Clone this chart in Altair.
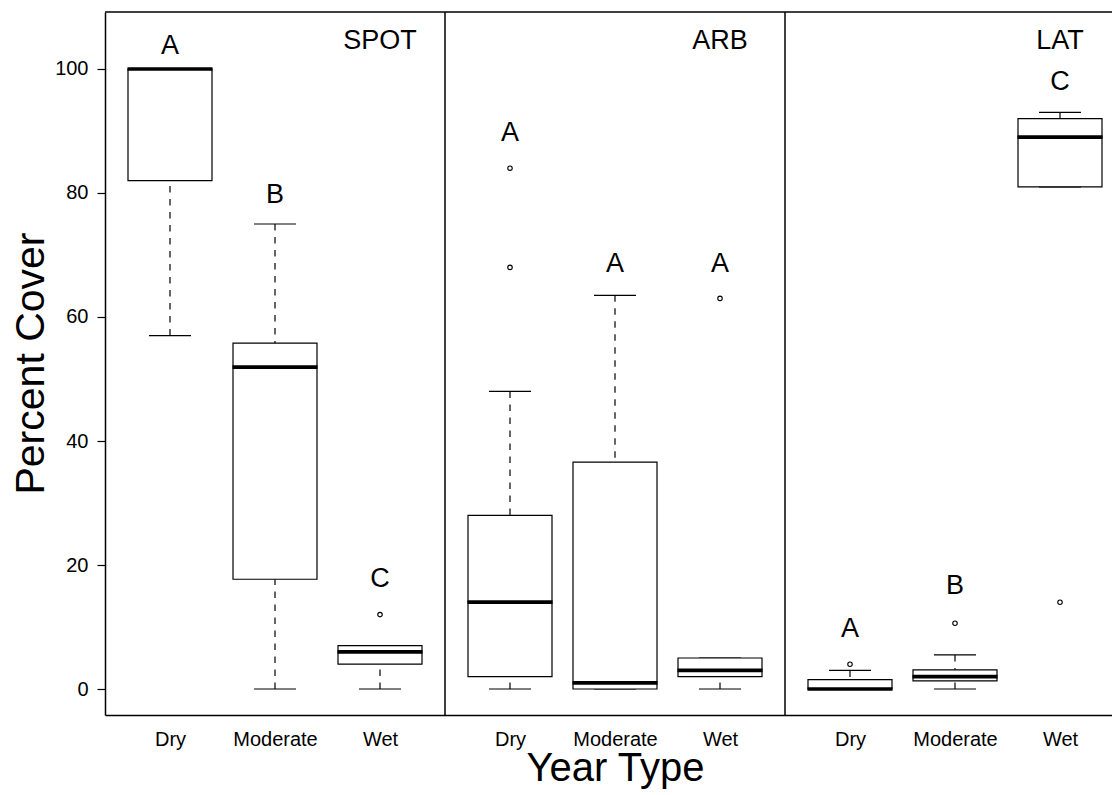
import altair as alt
import pandas as pd

# ---------------- data ----------------
panels = ["SPOT", "ARB", "LAT"]
year_types = ["Dry", "Moderate", "Wet"]

box_panel = ["SPOT", "SPOT", "SPOT", "ARB", "ARB", "ARB", "LAT", "LAT", "LAT"]
box_type = ["Dry", "Moderate", "Wet", "Dry", "Moderate", "Wet", "Dry", "Moderate", "Wet"]
whisker_low = [57, 0, 0, 0, 0, 0, 0, 0, 81]
q1 = [82, 17.7, 4, 2, 0, 2, 0, 1.3, 81]
median = [100, 51.9, 6, 14, 1, 3, 0, 2, 89]
q3 = [100, 55.8, 7, 28, 36.6, 5, 1.5, 3.1, 92]
whisker_high = [100, 75, 7, 48, 63.5, 5, 3, 5.5, 93]
group_letter = ["A", "B", "C", "A", "A", "A", "A", "B", "C"]
letter_y = [102.4, 78.4, 16.5, 88.4, 67.3, 67.3, 8.4, 15.4, 96.6]

outlier_panel = ["SPOT", "ARB", "ARB", "ARB", "LAT", "LAT", "LAT"]
outlier_type = ["Wet", "Dry", "Dry", "Wet", "Dry", "Moderate", "Wet"]
outlier_value = [12, 84, 68, 63, 4, 10.6, 14]

panel_label_y = 103.3
y_ticks = [0, 20, 40, 60, 80, 100]

# ---------------- layout ----------------
FONT = "Liberation Sans, Arial, Helvetica, sans-serif"
W, H = 1007, 703
PANEL_PX = 340
EDGE = 0.619                 # category units between panel edge and first box
SPAN = 2 + 2 * EDGE          # one panel, in category units
X_MIN = 1 - EDGE
X_MAX = X_MIN + SPAN * W / PANEL_PX
Y_MIN, Y_MAX = -4.19, 109.19
BOX_HALF = 0.4
CAP_HALF = 0.2
MED_HALF = 0.405


def pos(p, t):
    return panels.index(p) * SPAN + year_types.index(t) + 1


box_df = pd.DataFrame({
    "panel": box_panel, "type": box_type,
    "lo": whisker_low, "q1": q1, "med": median, "q3": q3, "hi": whisker_high,
    "letter": group_letter, "letter_y": letter_y,
})
box_df["pos"] = [pos(p, t) for p, t in zip(box_panel, box_type)]
box_df["xl"] = box_df["pos"] - BOX_HALF
box_df["xr"] = box_df["pos"] + BOX_HALF
box_df["cl"] = box_df["pos"] - CAP_HALF
box_df["cr"] = box_df["pos"] + CAP_HALF
box_df["ml"] = box_df["pos"] - MED_HALF
box_df["mr"] = box_df["pos"] + MED_HALF

out_df = pd.DataFrame({"panel": outlier_panel, "type": outlier_type, "value": outlier_value})
out_df["pos"] = [pos(p, t) for p, t in zip(outlier_panel, outlier_type)]

lab_df = pd.DataFrame({"panel": panels})
lab_df["pos"] = [pos(p, "Wet") for p in panels]
lab_df["y"] = panel_label_y

sep_df = pd.DataFrame({"bx": [X_MIN + k * SPAN for k in range(1, len(panels))]})
top_df = pd.DataFrame({"y": [Y_MAX]})

tick_pos = [pos(p, t) for p in panels for t in year_types]
label_expr = (
    "['Dry','Moderate','Wet'][round(datum.value - 1 - floor((datum.value - %f) / %f) * %f)]"
    % (X_MIN, SPAN, SPAN)
)

xscale = alt.Scale(domain=[X_MIN, X_MAX], nice=False, zero=False)
yscale = alt.Scale(domain=[Y_MIN, Y_MAX], nice=False, zero=False)

xaxis = alt.Axis(
    values=tick_pos, labelExpr=label_expr, title="Year Type",
    titleFontSize=40, titleFont=FONT, titleFontWeight="normal", titleColor="black",
    titleX=510, titleY=65, titleBaseline="alphabetic",
    labelFontSize=20, labelFont=FONT, labelColor="black", labelPadding=14,
    labelFlush=False, labelOverlap=False,
    ticks=False, tickSize=0, grid=False,
    domainColor="black", domainWidth=1.5,
)
yaxis = alt.Axis(
    values=y_ticks, title="Percent Cover",
    titleFontSize=41, titleFont=FONT, titleFontWeight="normal", titleColor="black",
    titleX=-62, titleY=351, titleBaseline="alphabetic", titleAngle=270,
    labelFontSize=20, labelFont=FONT, labelColor="black", labelPadding=9,
    tickSize=8, tickColor="black", tickWidth=1.2, grid=False,
    domainColor="black", domainWidth=1.5,
)


def X(f):
    return alt.X(f"{f}:Q", scale=xscale, axis=xaxis)


def Y(f):
    return alt.Y(f"{f}:Q", scale=yscale, axis=yaxis)


base = alt.Chart(box_df)
dash = [6.5, 6.5]

whisk_lo = base.mark_rule(color="black", strokeWidth=1.2, strokeDash=dash).encode(
    x=X("pos"), y=Y("lo"), y2="q1")
whisk_hi = base.mark_rule(color="black", strokeWidth=1.2, strokeDash=dash).encode(
    x=X("pos"), y=Y("hi"), y2="q3")
cap_lo = base.mark_rule(color="black", strokeWidth=1.2).encode(
    x=X("cl"), x2="cr", y=Y("lo"))
cap_hi = base.mark_rule(color="black", strokeWidth=1.2).encode(
    x=X("cl"), x2="cr", y=Y("hi"))
boxes = base.mark_rect(fill="white", stroke="black", strokeWidth=1.2).encode(
    x=X("xl"), x2="xr", y=Y("q1"), y2="q3")
meds = base.mark_rule(color="black", strokeWidth=3.7).encode(
    x=X("ml"), x2="mr", y=Y("med"))
outliers = alt.Chart(out_df).mark_point(
    shape="circle", filled=False, size=20, strokeWidth=1.1, color="black", opacity=1
).encode(x=X("pos"), y=Y("value"))
letters = base.mark_text(
    fontSize=27, font=FONT, baseline="alphabetic", align="center", color="black"
).encode(x=X("pos"), y=Y("letter_y"), text="letter:N")
panel_labels = alt.Chart(lab_df).mark_text(
    fontSize=27, font=FONT, baseline="alphabetic", align="center", color="black"
).encode(x=X("pos"), y=Y("y"), text="panel:N")
seps = alt.Chart(sep_df).mark_rule(color="black", strokeWidth=1.5).encode(x=X("bx"))
top = alt.Chart(top_df).mark_rule(color="black", strokeWidth=1.5).encode(y=Y("y"))

chart = alt.layer(
    whisk_lo, whisk_hi, cap_lo, cap_hi, boxes, meds, outliers,
    letters, panel_labels, seps, top
).properties(
    width=W, height=H,
    padding={"left": 105, "top": 12, "right": 0, "bottom": 80},
    autosize=alt.AutoSizeParams(type="none"),
    background="white",
).configure_view(stroke=None)

chart.save("out.html", embed_options={"renderer": "svg", "actions": False})
